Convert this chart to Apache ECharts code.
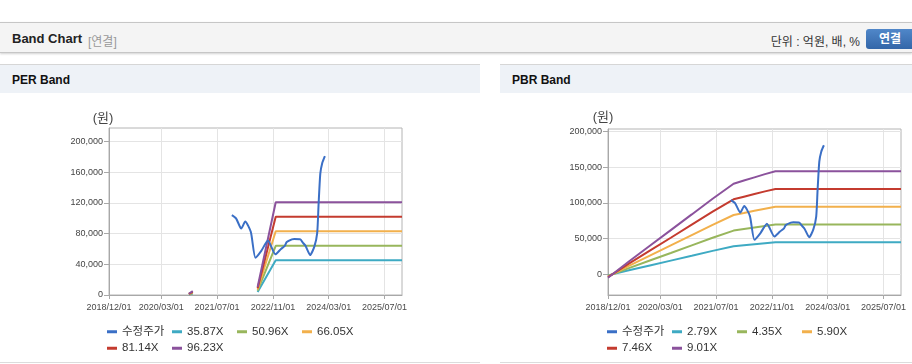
<!DOCTYPE html>
<html>
<head>
<meta charset="utf-8">
<script src="https://cdn.jsdelivr.net/npm/echarts@6/dist/echarts.min.js"></script>
<style>
  html, body { margin:0; padding:0; }
  body { width:912px; height:364px; overflow:hidden; background:#fff; position:relative;
         font-family:'Liberation Sans', Arial, 'Noto Sans CJK KR', sans-serif; }
  .hdr { position:absolute; left:0; top:22px; width:912px; height:29px; background:#f4f4f4;
         border-top:1px solid #c6c6c6; border-bottom:1px solid #c6c6c6; box-shadow:0 1px 2px rgba(0,0,0,0.18); }
  .hdr .t { position:absolute; left:12px; top:8px; font-weight:bold; font-size:13px; color:#222; }
  .hdr .s { position:absolute; left:88px; top:9px; font-size:12px; color:#999; }
  .hdr .u { position:absolute; right:52px; top:9px; font-size:12px; color:#333; }
  .hdr .b { position:absolute; left:866px; top:6px; width:50px; height:20px; border-radius:3px;
            background:linear-gradient(#5087c9,#3366a8); color:#fff; font-weight:bold; font-size:12px;
            text-align:center; line-height:20px; }
  .hdr .b span { position:relative; left:-1px; }
  .panel { position:absolute; top:64px; height:297px; border-top:1px solid #d6d6d6; border-bottom:1px solid #dcdcdc; background:#fff; }
  .panel .ph { position:absolute; left:0; top:0; right:0; height:28px; background:#eef2f7; }
  .panel .ph span { position:absolute; left:12px; top:8px; font-weight:bold; font-size:12px; color:#111; }
  #c { position:absolute; left:0; top:0; width:912px; height:364px; z-index:2; }
</style>
</head>
<body>
<div class="hdr">
  <span class="t">Band Chart</span>
  <span class="s">[연결]</span>
  <span class="u">단위 : 억원, 배, %</span>
  <div class="b"><span>연결</span></div>
</div>
<div class="panel" style="left:0;width:480px;"><div class="ph"><span>PER Band</span></div></div>
<div class="panel" style="left:500px;width:412px;"><div class="ph"><span>PBR Band</span></div></div>
<div id="c"></div>
<script>
// ---------- data ----------
const xMinDate = '2018-12-01';
const xMaxDate = '2025-12-01';
const xTickDates = ['2018-12-01','2020-03-01','2021-07-01','2022-11-01','2024-03-01','2025-07-01'];
const xTickLabels = ['2018/12/01','2020/03/01','2021/07/01','2022/11/01','2024/03/01','2025/07/01'];

const yUnitName = '(원)';
const perYTicks = [0, 40000, 80000, 120000, 160000, 200000];
const perYLabels = ['0','40,000','80,000','120,000','160,000','200,000'];
const pbrYTicks = [0, 50000, 100000, 150000, 200000];
const pbrYLabels = ['0','50,000','100,000','150,000','200,000'];

const priceName = '수정주가';
const priceDates = ['2021-11-07','2021-12-15','2022-01-28','2022-03-04','2022-04-22','2022-06-01','2022-07-22','2022-09-18','2022-11-22','2023-01-10','2023-02-12','2023-03-01','2023-04-15','2023-05-06','2023-06-28','2023-07-18','2023-08-12','2023-09-22','2023-10-28','2023-11-22','2023-12-04','2023-12-19','2024-01-05','2024-01-28'];
const priceValues = [104000, 99500, 86500, 95800, 82000, 48500, 57500, 71000, 53000, 60000, 64000, 69000, 72500, 73000, 72500, 68500, 64000, 52000, 63000, 81000, 118000, 158000, 172000, 181000];

const perBandNames = ['35.87X','50.96X','66.05X','81.14X','96.23X'];
const perBandDates = ['2020-10-28','2020-12-01','2021-06-01','2022-06-20','2022-11-25','2025-12-01'];
const perBand1 = [600, 1850, null, 3900, 45100, 45100];
const perBand2 = [850, 2650, null, 5600, 64100, 64100];
const perBand3 = [1100, 3400, null, 7200, 83000, 83000];
const perBand4 = [1350, 4200, null, 8900, 102000, 102000];
const perBand5 = [1600, 5000, null, 10500, 120700, 120700];

const pbrBandNames = ['2.79X','4.35X','5.90X','7.46X','9.01X'];
const pbrBandDates = ['2018-12-01','2019-06-01','2019-12-01','2020-06-01','2020-12-01','2021-06-01','2021-12-01','2022-03-01','2022-06-01','2022-09-01','2022-12-01','2025-12-01'];
const pbrBand1 = [-1500, 5600, 12400, 19200, 26000, 32900, 39400, 40800, 42200, 43600, 45000, 45000];
const pbrBand2 = [-2300, 8700, 19300, 29900, 40600, 51200, 61300, 63500, 65700, 67900, 69800, 69800];
const pbrBand3 = [-3100, 11800, 26200, 40600, 55000, 69400, 83200, 86100, 89100, 92000, 94700, 94700];
const pbrBand4 = [-3900, 14900, 33100, 51300, 69600, 87800, 105200, 108900, 112600, 116300, 119600, 119600];
const pbrBand5 = [-4700, 18000, 40000, 62000, 84000, 106000, 127000, 131500, 136000, 140500, 144500, 144500];

const bandColors = ['#3eaac3', '#98b65c', '#f2b04c', '#c43b2f', '#8b529c'];
const priceColor = '#3a6fc6';

// ---------- helpers ----------
const FONT = "'Liberation Sans', Arial, 'Noto Sans CJK KR', sans-serif";
function toTs(s) { const p = s.split(/[-\/]/).map(Number); return new Date(p[0], p[1]-1, p[2]).getTime(); }
const xTickVals = xTickDates.map(toTs);
function pairs(dates, vals) { return dates.map((d, i) => [toTs(d), vals[i] == null ? '-' : vals[i]]); }

function xAxisCfg(gi) {
  return {
    type: 'value', gridIndex: gi, min: toTs(xMinDate), max: toTs(xMaxDate),
    axisLine: { show: true, onZero: false, lineStyle: { color: '#a8a8a8', width: 1 } },
    axisTick: { show: true, length: 4, customValues: xTickVals, lineStyle: { color: '#a8a8a8' } },
    axisLabel: { customValues: xTickVals, fontSize: 9, color: '#4a4a4a', margin: 8, fontFamily: FONT,
                 hideOverlap: false,
                 formatter: v => { const i = xTickVals.indexOf(v); return i >= 0 ? xTickLabels[i] : ''; } },
    splitLine: { show: true, lineStyle: { color: '#e4e4e4', width: 1 } }
  };
}
function yAxisCfg(gi, min, max, ticks, labels) {
  return {
    type: 'value', gridIndex: gi, min: min, max: max,
    axisLine: { show: true, onZero: false, lineStyle: { color: '#a8a8a8', width: 1 } },
    axisTick: { show: true, length: 5, customValues: ticks, lineStyle: { color: '#a8a8a8' } },
    axisLabel: { customValues: ticks, fontSize: 9, color: '#444', margin: 6, fontFamily: FONT,
                 formatter: v => { const i = ticks.indexOf(v); return i >= 0 ? labels[i] : ''; } },
    splitLine: { show: true, lineStyle: { color: '#e4e4e4', width: 1 } }
  };
}
function lineSeries(name, gi, data, color, extra) {
  return Object.assign({
    name: name, type: 'line', xAxisIndex: gi, yAxisIndex: gi, data: data,
    showSymbol: false, symbol: 'none', color: color,
    lineStyle: { width: 2, color: color }, emphasis: { disabled: true }, animation: false
  }, extra || {});
}
function legendCfg(left, names) {
  return {
    left: left, top: 326, width: 262, padding: 0, itemGap: 5, itemWidth: 10, itemHeight: 3,
    icon: 'rect', selectedMode: false,
    textStyle: { fontSize: 11.5, color: '#333', width: 45, lineHeight: 9, fontFamily: FONT },
    data: [priceName].concat(names)
  };
}
function unitText(cx, cy) {
  return { type: 'text', x: cx, y: cy, silent: true,
           style: { text: yUnitName, fontSize: 13, fill: '#444', fontFamily: FONT, align: 'center', verticalAlign: 'middle' } };
}

const perBands = [perBand1, perBand2, perBand3, perBand4, perBand5];
const pbrBands = [pbrBand1, pbrBand2, pbrBand3, pbrBand4, pbrBand5];

const series = [];
perBands.forEach((b, i) => series.push(lineSeries(perBandNames[i], 0, pairs(perBandDates, b), bandColors[i])));
series.push(lineSeries(priceName, 0, pairs(priceDates, priceValues), priceColor, { smooth: 0.2, z: 3 }));
pbrBands.forEach((b, i) => series.push(lineSeries(pbrBandNames[i], 1, pairs(pbrBandDates, b), bandColors[i])));
series.push(lineSeries(priceName, 1, pairs(priceDates, priceValues), priceColor, { smooth: 0.2, z: 3 }));

const chart = echarts.init(document.getElementById('c'), null, { renderer: 'canvas', width: 912, height: 364 });
chart.setOption({
  animation: false,
  backgroundColor: 'transparent',
  textStyle: { fontFamily: FONT },
  grid: [
    { left: 109, top: 128, width: 293, height: 167, show: true, borderColor: '#b4b4b4', borderWidth: 1, backgroundColor: 'transparent' },
    { left: 608, top: 129, width: 293, height: 166, show: true, borderColor: '#b4b4b4', borderWidth: 1, backgroundColor: 'transparent' }
  ],
  xAxis: [xAxisCfg(0), xAxisCfg(1)],
  yAxis: [yAxisCfg(0, 0, 217500, perYTicks, perYLabels), yAxisCfg(1, -29000, 203800, pbrYTicks, pbrYLabels)],
  legend: [legendCfg(107, perBandNames), legendCfg(607, pbrBandNames)],
  graphic: [unitText(103, 118), unitText(603, 117)],
  series: series
});
</script>
</body>
</html>
